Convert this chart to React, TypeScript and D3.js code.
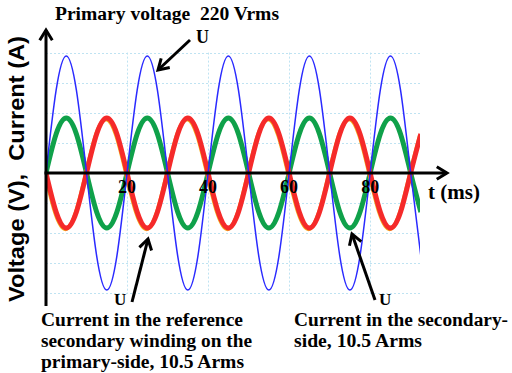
import React, { useEffect, useRef } from 'react';
import * as d3 from 'd3';

// samples, one every 2.5 ms
const timeMs = [
    0, 2.5, 5, 7.5, 10, 12.5, 15, 17.5,
    20, 22.5, 25, 27.5, 30, 32.5, 35, 37.5,
    40, 42.5, 45, 47.5, 50, 52.5, 55, 57.5,
    60, 62.5, 65, 67.5, 70, 72.5, 75, 77.5,
    80, 82.5, 85, 87.5, 90, 92.5
];
const primaryVoltage = [
    0, 220, 311, 220, 0, -220, -311, -220,
    0, 220, 311, 220, 0, -220, -311, -220,
    0, 220, 311, 220, 0, -220, -311, -220,
    0, 220, 311, 220, 0, -220, -311, -220,
    0, 220, 311, 220, 0, -220
];
const secondaryCurrent = [
    0, 10.5, 14.8, 10.5, 0, -10.5, -14.8, -10.5,
    0, 10.5, 14.8, 10.5, 0, -10.5, -14.8, -10.5,
    0, 10.5, 14.8, 10.5, 0, -10.5, -14.8, -10.5,
    0, 10.5, 14.8, 10.5, 0, -10.5, -14.8, -10.5,
    0, 10.5, 14.8, 10.5, 0, -10.5
];
const referenceCurrent = [
    0, -10.5, -14.8, -10.5, 0, 10.5, 14.8, 10.5,
    0, -10.5, -14.8, -10.5, 0, 10.5, 14.8, 10.5,
    0, -10.5, -14.8, -10.5, 0, 10.5, 14.8, 10.5,
    0, -10.5, -14.8, -10.5, 0, 10.5, 14.8, 10.5,
    0, -10.5, -14.8, -10.5, 0, 10.5
];
const xTickLabels = [20, 40, 60, 80];
const xGridValues = [20, 40, 60, 80];
const yGridValues = [-320, -240, -160, -80, 80, 160, 240, 320];

const W = 512, H = 373;
const serif = '"Liberation Serif", "Times New Roman", serif';
const sans = '"Liberation Sans", Arial, sans-serif';

const chevron = (g, tipX, tipY, angle, size) => {
    // open arrow head pointing along angle
    const a1 = angle + Math.PI - 0.55, a2 = angle + Math.PI + 0.55;
    g.append('path')
        .attr('d', `M${tipX + size * Math.cos(a1)},${tipY + size * Math.sin(a1)}L${tipX},${tipY}L${tipX + size * Math.cos(a2)},${tipY + size * Math.sin(a2)}`)
        .attr('fill', 'none')
        .attr('stroke', '#000')
        .attr('stroke-width', 3)
        .attr('stroke-linejoin', 'miter');
};

const arrow = (g, x1, y1, x2, y2) => {
    g.append('line')
        .attr('x1', x1).attr('y1', y1).attr('x2', x2).attr('y2', y2)
        .attr('stroke', '#000').attr('stroke-width', 3);
    chevron(g, x2, y2, Math.atan2(y2 - y1, x2 - x1), 12);
};

const App = () => {
    const ref = useRef(null);

    useEffect(() => {
        const svg = d3.select(ref.current);
        svg.selectAll('*').remove();

        const x = d3.scaleLinear().domain([0, 92.3]).range([46, 420]);
        const yV = d3.scaleLinear().domain([-311, 311]).range([290, 56]);
        const yI = d3.scaleLinear().domain([-14.8, 14.8]).range([228, 118]);

        svg.append('defs').append('clipPath').attr('id', 'plot')
            .append('rect').attr('x', x(0)).attr('y', 0).attr('width', x(92.3) - x(0)).attr('height', H);

        // dotted grid
        const grid = svg.append('g')
            .attr('stroke', '#bfe3f2').attr('stroke-width', 1).attr('stroke-dasharray', '2,2');
        grid.selectAll('line.h').data(yGridValues).enter().append('line')
            .attr('x1', x(0)).attr('x2', x(92.3))
            .attr('y1', d => Math.round(yV(d)) + 0.5).attr('y2', d => Math.round(yV(d)) + 0.5);
        grid.selectAll('line.v').data(xGridValues).enter().append('line')
            .attr('y1', yV(320)).attr('y2', yV(-320))
            .attr('x1', d => Math.round(x(d)) + 0.5).attr('x2', d => Math.round(x(d)) + 0.5);

        const plot = svg.append('g').attr('clip-path', 'url(#plot)');
        const idx = d3.range(timeMs.length);

        const lineI = d3.line().curve(d3.curveNatural)
            .x(i => x(timeMs[i]));

        plot.append('path')
            .attr('d', lineI.y(i => yI(secondaryCurrent[i]))(idx))
            .attr('fill', 'none').attr('stroke', '#0fa14a').attr('stroke-width', 5);

        plot.append('path')
            .attr('d', lineI.y(i => yI(referenceCurrent[i]))(idx))
            .attr('transform', 'translate(-0.8,1.2)')
            .attr('fill', 'none').attr('stroke', '#f2b020').attr('stroke-width', 4);
        plot.append('path')
            .attr('d', lineI.y(i => yI(referenceCurrent[i]))(idx))
            .attr('fill', 'none').attr('stroke', '#f52a2a').attr('stroke-width', 5);

        plot.append('path')
            .attr('d', d3.line().curve(d3.curveNatural)
                .x(i => x(timeMs[i])).y(i => yV(primaryVoltage[i]))(idx))
            .attr('fill', 'none').attr('stroke', '#2a2aff').attr('stroke-width', 1.5);

        // axes
        const ax = svg.append('g');
        ax.append('line').attr('x1', x(0)).attr('x2', x(0)).attr('y1', 306).attr('y2', 30)
            .attr('stroke', '#000').attr('stroke-width', 3);
        chevron(ax, x(0), 30, -Math.PI / 2, 12);
        ax.append('line').attr('x1', x(0) - 1.5).attr('x2', 447).attr('y1', yV(0)).attr('y2', yV(0))
            .attr('stroke', '#000').attr('stroke-width', 3);
        chevron(ax, 447, yV(0), 0, 12);

        ax.selectAll('text.tick').data(xTickLabels).enter().append('text')
            .attr('x', d => x(d)).attr('y', 193)
            .attr('text-anchor', 'middle')
            .attr('font-family', serif).attr('font-weight', 'bold').attr('font-size', 18)
            .text(d => d);

        ax.append('text').attr('x', 428).attr('y', 199)
            .attr('font-family', serif).attr('font-weight', 'bold').attr('font-size', 21)
            .text('t (ms)');

        ax.append('text')
            .attr('transform', 'translate(24,169) rotate(-90)')
            .attr('text-anchor', 'middle')
            .attr('font-family', sans).attr('font-weight', 'bold').attr('font-size', 22)
            .attr('textLength', 266).attr('lengthAdjust', 'spacingAndGlyphs')
            .style('white-space', 'pre')
            .text('Voltage (V),  Current (A)');

        // annotations
        const ann = svg.append('g').attr('font-family', serif).attr('font-weight', 'bold');
        ann.append('text').attr('x', 55).attr('y', 20).attr('font-size', 18.5)
            .attr('textLength', 224).attr('lengthAdjust', 'spacingAndGlyphs')
            .style('white-space', 'pre')
            .text('Primary voltage  220 Vrms');
        ann.append('text').attr('x', 196).attr('y', 43).attr('font-size', 18).text('U');
        arrow(ann, 190, 40, 158, 70);

        ann.append('text').attr('x', 114).attr('y', 305).attr('font-size', 17).text('U');
        arrow(ann, 132, 302, 148, 239);
        ann.append('text').attr('x', 379).attr('y', 305).attr('font-size', 17).text('U');
        arrow(ann, 375, 300, 352, 234);

        const leftLines = ['Current in the reference', 'secondary winding on the', 'primary-side, 10.5 Arms'];
        const leftWidths = [202, 211, 203];
        const rightLines = ['Current in the secondary-', 'side, 10.5 Arms'];
        const rightWidths = [214, 128];
        ann.selectAll('text.l').data(leftLines).enter().append('text')
            .attr('x', 41).attr('y', (d, i) => 326 + i * 21).attr('font-size', 18.5)
            .attr('textLength', (d, i) => leftWidths[i]).attr('lengthAdjust', 'spacingAndGlyphs')
            .text(d => d);
        ann.selectAll('text.r').data(rightLines).enter().append('text')
            .attr('x', 294).attr('y', (d, i) => 326 + i * 21).attr('font-size', 18.5)
            .attr('textLength', (d, i) => rightWidths[i]).attr('lengthAdjust', 'spacingAndGlyphs')
            .text(d => d);
    }, []);

    return (
        <svg ref={ref} width={W} height={H}
            style={{ position: 'absolute', left: 0, top: 0, background: '#fff' }} />
    );
};

export default App;
